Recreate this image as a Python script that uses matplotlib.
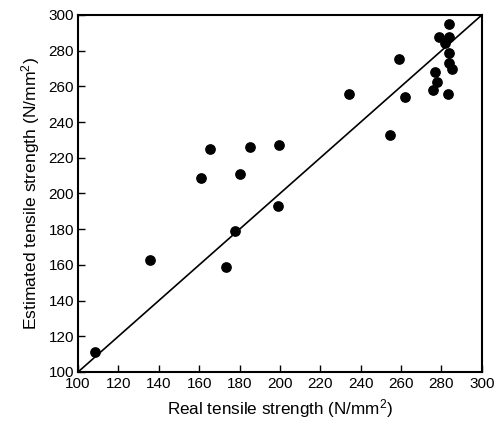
import matplotlib
matplotlib.use("Agg")
import matplotlib.pyplot as plt

real = [108.4, 135.8, 173.3, 177.9, 198.8, 160.7, 165.5, 180.0, 185.3, 199.7,
        234.3, 254.5, 259.2, 261.7,
        283.7, 278.9, 283.8, 281.8, 283.8, 283.8, 285.1, 276.6, 277.6, 275.9, 283.3]
estimated = [111.2, 162.9, 158.8, 179.0, 192.8, 208.7, 225.1, 211.1, 226.1, 227.2,
             255.6, 232.6, 275.4, 254.2,
             295.0, 287.8, 287.5, 284.1, 278.9, 272.9, 269.6, 268.1, 262.6, 258.0, 255.7]
ticks = list(range(100, 301, 20))

plt.rcParams['font.family'] = ['Liberation Sans', 'DejaVu Sans']
plt.rcParams['mathtext.fontset'] = 'custom'
plt.rcParams['mathtext.rm'] = 'Liberation Sans'
plt.rcParams['mathtext.it'] = 'Liberation Sans:italic'
plt.rcParams['mathtext.bf'] = 'Liberation Sans:bold'

fig = plt.figure(figsize=(5.04, 4.28), dpi=100)
ax = fig.add_axes([0.155, 0.131, 0.801, 0.834])

ax.plot([100, 300], [100, 300], color='black', lw=1.2, zorder=2)
ax.scatter(real, estimated, s=45, color='black', zorder=3, clip_on=False)

ax.set_xlim(100, 300)
ax.set_ylim(100, 300)
ax.set_xticks(ticks)
ax.set_yticks(ticks)
ax.tick_params(direction='in', length=5, width=1, labelsize=11,
               top=False, right=False)
ax.tick_params(axis='x', pad=4)
ax.tick_params(axis='y', pad=3)
for s in ax.spines.values():
    s.set_linewidth(1.5)

ax.set_xlabel('Real tensile strength (N/mm$^\\mathregular{2}$)', fontsize=12.3, labelpad=4)
ax.set_ylabel('Estimated tensile strength (N/mm$^\\mathregular{2}$)', fontsize=12.6, labelpad=5)

fig.savefig('out.png', dpi=100)
